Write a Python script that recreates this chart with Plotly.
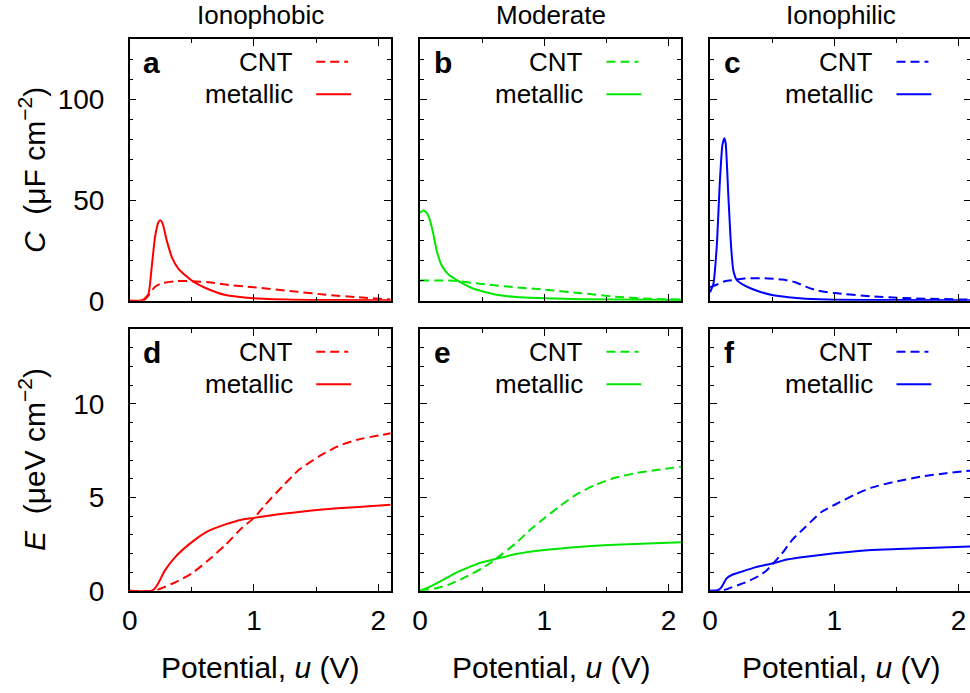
import plotly.graph_objects as go

# ---------------- data ----------------
col_titles = ["Ionophobic", "Moderate", "Ionophilic"]
panel_letters = ["a", "b", "c", "d", "e", "f"]
colors = ["#ff0000", "#00e600", "#0000ff"]

# Capacitance C (uF/cm^2) vs potential u (V)
a_met_u = [0, 0.07, 0.11, 0.15, 0.177, 0.204, 0.231, 0.245, 0.263, 0.298, 0.339, 0.392, 0.45, 0.5, 0.61, 0.77, 1.0, 1.31, 1.6, 2.1]
a_met_c = [0, 0, 0.5, 3.3, 16.7, 31.7, 39, 40, 38.7, 30, 21.7, 15.8, 12.5, 10, 6.3, 2.8, 1.2, 0.5, 0.3, 0.2]
a_cnt_u = [0, 0.11, 0.15, 0.2, 0.26, 0.366, 0.5, 0.634, 0.77, 1.0, 1.31, 1.575, 1.84, 2.1]
a_cnt_c = [0, 0, 2.5, 6.7, 8.7, 9.7, 9.7, 9.2, 8.0, 6.7, 4.7, 3.0, 1.7, 0.6]

b_met_u = [0, 0.027, 0.054, 0.08, 0.107, 0.134, 0.175, 0.23, 0.31, 0.417, 0.5, 0.63, 0.77, 1.0, 1.3, 2.1]
b_met_c = [43.7, 44.8, 43.7, 40, 33.3, 25, 17.5, 13, 9.7, 6.3, 4.7, 2.8, 1.8, 1.2, 0.7, 0.3]
b_cnt_u = [0, 0.23, 0.31, 0.5, 0.77, 1.0, 1.3, 1.57, 1.84, 2.1]
b_cnt_c = [10, 10, 9.7, 8.3, 6.7, 5.5, 3.7, 2.0, 1.0, 0.6]

c_met_u = [0, 0.027, 0.054, 0.08, 0.1, 0.116, 0.126, 0.148, 0.17, 0.188, 0.215, 0.28, 0.39, 0.5, 0.63, 0.77, 1.0, 1.5, 2.1]
c_met_c = [4.2, 8.3, 26.7, 60, 77.5, 80.8, 78.3, 51.7, 26.7, 15, 10.3, 7.5, 4.7, 2.8, 1.7, 1.0, 0.5, 0.3, 0.2]
c_cnt_u = [0, 0.067, 0.12, 0.215, 0.28, 0.44, 0.58, 0.685, 0.77, 0.85, 1.0, 1.3, 1.57, 2.1]
c_cnt_c = [6.7, 8.3, 9.7, 10.5, 11, 11.2, 10.5, 9.2, 7.0, 5.3, 3.8, 2.2, 1.3, 0.5]

# Energy E (ueV/cm^2) vs potential u (V)
d_met_u = [0, 0.177, 0.2, 0.23, 0.285, 0.366, 0.5, 0.634, 0.77, 0.9, 1.0, 1.17, 1.31, 1.575, 1.84, 2.1]
d_met_e = [0, 0, 0.1, 0.4, 1.1, 1.8, 2.6, 3.2, 3.55, 3.8, 3.9, 4.07, 4.18, 4.36, 4.48, 4.6]
d_cnt_u = [0, 0.2, 0.28, 0.366, 0.5, 0.634, 0.77, 0.9, 1.0, 1.09, 1.226, 1.36, 1.52, 1.68, 1.84, 2.1]
d_cnt_e = [0, 0, 0.2, 0.45, 0.93, 1.64, 2.45, 3.34, 3.9, 4.6, 5.57, 6.46, 7.18, 7.75, 8.1, 8.43]

e_met_u = [0, 0.067, 0.175, 0.28, 0.39, 0.5, 0.6, 0.77, 1.0, 1.3, 1.57, 2.1]
e_met_e = [0, 0.18, 0.54, 0.93, 1.25, 1.52, 1.68, 1.96, 2.18, 2.36, 2.46, 2.6]
e_cnt_u = [0, 0.12, 0.23, 0.36, 0.5, 0.58, 0.66, 0.77, 0.9, 1.0, 1.12, 1.25, 1.41, 1.57, 1.73, 1.9, 2.1]
e_cnt_e = [0, 0.12, 0.32, 0.71, 1.2, 1.55, 1.96, 2.54, 3.34, 3.88, 4.5, 5.12, 5.66, 6.05, 6.29, 6.46, 6.64]

f_met_u = [0, 0.067, 0.094, 0.134, 0.175, 0.255, 0.363, 0.5, 0.63, 0.77, 1.0, 1.3, 1.57, 2.1]
f_met_e = [0, 0.04, 0.21, 0.66, 0.84, 1.02, 1.25, 1.46, 1.68, 1.82, 2.0, 2.18, 2.25, 2.37]
f_cnt_u = [0, 0.094, 0.175, 0.28, 0.39, 0.45, 0.5, 0.58, 0.66, 0.77, 0.9, 1.0, 1.17, 1.3, 1.49, 1.7, 1.9, 2.1]
f_cnt_e = [0, 0, 0.18, 0.43, 0.78, 1.05, 1.4, 2.0, 2.71, 3.43, 4.23, 4.59, 5.16, 5.52, 5.84, 6.11, 6.29, 6.43]

panels = [
    (a_cnt_u, a_cnt_c, a_met_u, a_met_c),
    (b_cnt_u, b_cnt_c, b_met_u, b_met_c),
    (c_cnt_u, c_cnt_c, c_met_u, c_met_c),
    (d_cnt_u, d_cnt_e, d_met_u, d_met_e),
    (e_cnt_u, e_cnt_e, e_met_u, e_met_e),
    (f_cnt_u, f_cnt_e, f_met_u, f_met_e),
]

x_range = [0, 2.1]
c_range = [0, 130]
e_range = [0, 14]

# ---------------- layout geometry ----------------
W, H = 973, 693   # a little wider than the window so the last frame edge is cropped like the reference
col_px = [(129.7, 390.7), (420.0, 681.0), (710.0, 971.0)]
row_px = [(39.3, 300.7), (329.3, 590.7)]
FONT = "Liberation Sans, Arial, Helvetica, sans-serif"
DASH = "9px,5px"
LW = 2

fig = go.Figure()
layout = dict(
    template="none",
    width=W, height=H,
    margin=dict(l=0, r=0, t=0, b=0, pad=0),
    paper_bgcolor="white", plot_bgcolor="white",
    showlegend=False,
    font=dict(family=FONT, color="black"),
)
annotations = []
shapes = []

for i, (cu, cv, mu, mv) in enumerate(panels):
    r, c = divmod(i, 3)
    n = "" if i == 0 else str(i + 1)
    xa, ya = "x" + n, "y" + n
    col = colors[c]
    fig.add_trace(go.Scatter(x=cu, y=cv, mode="lines", xaxis=xa, yaxis=ya,
                             line=dict(color=col, width=LW, dash=DASH, shape="spline", smoothing=0.6),
                             name="CNT", hoverinfo="skip"))
    fig.add_trace(go.Scatter(x=mu, y=mv, mode="lines", xaxis=xa, yaxis=ya,
                             line=dict(color=col, width=LW, shape="spline", smoothing=0.6),
                             name="metallic", hoverinfo="skip"))

    x0, x1 = col_px[c]
    y0, y1 = row_px[r]
    xdom = [x0 / W, min(x1 / W, 1.0)]
    ydom = [1 - y1 / H, 1 - y0 / H]

    common = dict(showline=True, linecolor="black", linewidth=1.5, mirror="allticks",
                  ticks="inside", ticklen=7, tickwidth=1.2, tickcolor="black",
                  showgrid=False, zeroline=False, fixedrange=True, automargin=False,
                  tickfont=dict(family=FONT, size=28, color="black"))
    layout["xaxis" + n] = dict(common, domain=xdom, range=x_range, anchor=ya,
                               tickmode="array", tickvals=[0, 1, 2], ticktext=["0", "1", "2"],
                               minor=dict(ticks="inside", ticklen=4, tickvals=[0.5, 1.5], tickcolor="black", tickwidth=1.2),
                               showticklabels=(r == 1), ticklabelstandoff=4)
    if r == 0:
        yticks = dict(tickmode="array", tickvals=[0, 50, 100], ticktext=["0", "50", "100"],
                      minor=dict(ticks="inside", ticklen=4, dtick=10, tickcolor="black", tickwidth=1.2),
                      range=c_range)
    else:
        yticks = dict(tickmode="array", tickvals=[0, 5, 10], ticktext=["0", "5", "10"],
                      minor=dict(ticks="inside", ticklen=4, dtick=1, tickcolor="black", tickwidth=1.2),
                      range=e_range)
    layout["yaxis" + n] = dict(common, domain=ydom, anchor=xa, showticklabels=(c == 0),
                               ticklabelstandoff=18, **yticks)

    # panel letter
    annotations.append(dict(text="<b>%s</b>" % panel_letters[i], xref=xa + " domain", yref=ya + " domain",
                            x=0.045, y=0.913, xanchor="left", yanchor="middle", showarrow=False,
                            font=dict(family=FONT, size=30, color="black")))
    # legend (text right, line sample)
    for lbl, yy, dsh, xe in (("CNT", 0.914, DASH, 0.837), ("metallic", 0.79, "solid", 0.848)):
        annotations.append(dict(text=lbl, xref=xa + " domain", yref=ya + " domain",
                                x=0.634, y=yy, xanchor="right", yanchor="middle", showarrow=False,
                                font=dict(family=FONT, size=26, color="black")))
        shapes.append(dict(type="line", xref=xa + " domain", yref=ya + " domain",
                           x0=0.7146, x1=xe, y0=yy, y1=yy,
                           line=dict(color=col, width=LW, dash=dsh)))

    # column titles
    if r == 0:
        annotations.append(dict(text=col_titles[c], xref="paper", yref="paper",
                                x=((x0 + x1) / 2) / W, y=1 - 15 / H, xanchor="center", yanchor="middle",
                                showarrow=False, font=dict(family=FONT, size=26, color="black")))
    else:
        annotations.append(dict(text="Potential, <i>u</i> (V)", xref="paper", yref="paper",
                                x=((x0 + x1) / 2) / W, y=1 - 667 / H, xanchor="center", yanchor="middle",
                                showarrow=False, font=dict(family=FONT, size=30, color="black")))

# y axis titles
annotations.append(dict(text="<i>C</i>  (μF cm<sup>−2</sup>)", xref="paper", yref="paper",
                        x=32 / W, y=1 - 170 / H, textangle=-90, xanchor="center", yanchor="middle",
                        showarrow=False, font=dict(family=FONT, size=30, color="black")))
annotations.append(dict(text="<i>E</i>  (μeV cm<sup>−2</sup>)", xref="paper", yref="paper",
                        x=32 / W, y=1 - 460 / H, textangle=-90, xanchor="center", yanchor="middle",
                        showarrow=False, font=dict(family=FONT, size=30, color="black")))

layout["annotations"] = annotations
layout["shapes"] = shapes
fig.update_layout(**layout)
fig.write_html("out.html", config={"displayModeBar": False},
               post_script="document.body.style.margin='0px'; document.body.style.overflow='hidden';")
